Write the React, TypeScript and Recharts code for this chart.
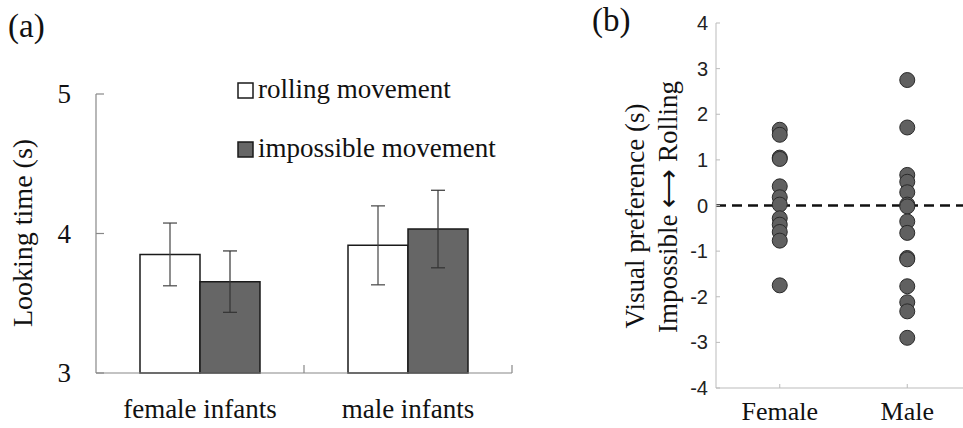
import React from 'react';
import {
  BarChart,
  Bar,
  XAxis,
  YAxis,
  ErrorBar,
  ScatterChart,
  Scatter,
  ReferenceLine,
} from 'recharts';

// ---------- Data: panel (a) ----------
const groups = ['female infants', 'male infants'];
const rollingMeans = [3.85, 3.915];
const rollingErrors = [0.225, 0.283];
const impossibleMeans = [3.655, 4.032];
const impossibleErrors = [0.22, 0.278];
const lookingTicks = [3, 4, 5];

// ---------- Data: panel (b) ----------
const prefCategories = ['Female', 'Male'];
const femalePrefs = [1.66, 1.55, 1.05, 1.02, 0.42, 0.18, 0.02, -0.28, -0.42, -0.58, -0.77, -1.75];
const malePrefs = [2.75, 1.71, 0.67, 0.52, 0.29, 0.02, -0.02, -0.35, -0.6, -1.15, -1.18, -1.77, -2.12, -2.32, -2.9];
const prefTicks = [-4, -3, -2, -1, 0, 1, 2, 3, 4];
const prefCategoryPositions = [1, 2];

const barData = groups.map((g, i) => ({
  group: g,
  rolling: rollingMeans[i],
  rollingErr: rollingErrors[i],
  impossible: impossibleMeans[i],
  impossibleErr: impossibleErrors[i],
}));
const femaleData = femalePrefs.map((v) => ({ x: prefCategoryPositions[0], y: v }));
const maleData = malePrefs.map((v) => ({ x: prefCategoryPositions[1], y: v }));

const SERIF = '"Liberation Serif", "Times New Roman", serif';
const SANS = '"Liberation Sans", Arial, sans-serif';

// layout constants panel (a)
const A_W = 560;
const A_H = 428;
const A_MARGIN = { top: 94, right: 48, bottom: 10, left: 26 };
const A_YW = 70;
const A_PLOT_W = A_W - A_MARGIN.left - A_MARGIN.right - A_YW;
const A_HALF_BAND = A_PLOT_W / groups.length / 2;

const XTickA = (props: any) => {
  const { x, y, payload } = props;
  return (
    <g>
      <line x1={x + A_HALF_BAND} x2={x + A_HALF_BAND} y1={y} y2={y - 8} stroke="#888" strokeWidth={1.2} />
      <text x={x} y={y + 45} textAnchor="middle" fontFamily={SERIF} fontSize={27} fill="#111">
        {payload.value}
      </text>
    </g>
  );
};

const YTickA = (props: any) => {
  const { x, y, payload } = props;
  return (
    <g>
      <line x1={x + 25} x2={x + 33} y1={y} y2={y} stroke="#888" strokeWidth={1.2} />
      <text x={x} y={y + 9} textAnchor="end" fontFamily={SERIF} fontSize={27} fill="#111">
        {payload.value}
      </text>
    </g>
  );
};

const XTickB = (props: any) => {
  const { x, y, payload } = props;
  const idx = prefCategoryPositions.indexOf(payload.value);
  return (
    <g>
      <line x1={x} x2={x} y1={y} y2={y - 4} stroke="#bbb" strokeWidth={1} />
      <text x={x} y={y + 32} textAnchor="middle" fontFamily={SERIF} fontSize={26} fill="#111">
        {idx >= 0 ? prefCategories[idx] : ''}
      </text>
    </g>
  );
};

const TopTickB = (props: any) => {
  const { x, y } = props;
  return <line x1={x} x2={x} y1={y} y2={y + 4} stroke="#bbb" strokeWidth={1} />;
};

const YTickB = (props: any) => {
  const { x, y, payload } = props;
  return (
    <g>
      <line x1={x + 8} x2={x + 12} y1={y} y2={y} stroke="#bbb" strokeWidth={1} />
      <text x={x} y={y + 7} textAnchor="end" fontFamily={SANS} fontSize={20} fill="#222">
        {payload.value}
      </text>
    </g>
  );
};

const Dot = (props: any) => {
  const { cx, cy } = props;
  return <circle cx={cx} cy={cy} r={7.5} fill="#606060" stroke="#2a2a2a" strokeWidth={1} />;
};

export default function App() {
  return (
    <div
      style={{
        position: 'absolute',
        left: 0,
        top: 0,
        width: 963,
        height: 428,
        overflow: 'hidden',
        background: '#fff',
      }}
    >
      <div style={{ position: 'absolute', left: 0, top: 0 }}>
        <BarChart width={A_W} height={A_H} data={barData} margin={A_MARGIN} barGap={0} barSize={60}>
          <XAxis
            dataKey="group"
            height={45}
            axisLine={{ stroke: '#888', strokeWidth: 1.2 }}
            tickLine={false}
            tickSize={0}
            tickMargin={0}
            interval={0}
            tick={<XTickA />}
          />
          <YAxis
            domain={[3, 5]}
            ticks={lookingTicks}
            width={A_YW}
            axisLine={{ stroke: '#888', strokeWidth: 1.2 }}
            tickLine={false}
            tickSize={0}
            tickMargin={25}
            tick={<YTickA />}
          />
          <Bar dataKey="rolling" fill="#ffffff" stroke="#1a1a1a" strokeWidth={1.5} isAnimationActive={false}>
            <ErrorBar dataKey="rollingErr" width={7} stroke="#444" strokeWidth={1.2} />
          </Bar>
          <Bar dataKey="impossible" fill="#666666" stroke="#1a1a1a" strokeWidth={1.5} isAnimationActive={false}>
            <ErrorBar dataKey="impossibleErr" width={7} stroke="#333" strokeWidth={1.2} />
          </Bar>
        </BarChart>
      </div>

      <div style={{ position: 'absolute', left: 590, top: 0 }}>
        <ScatterChart width={390} height={428} margin={{ top: 23, right: 9, bottom: 0, left: 66 }}>
          <XAxis
            type="number"
            dataKey="x"
            domain={[0.5, 2.5]}
            ticks={prefCategoryPositions}
            height={40}
            axisLine={{ stroke: '#bbb' }}
            tickLine={false}
            tickSize={0}
            tickMargin={0}
            tick={<XTickB />}
            allowDataOverflow
          />
          <XAxis
            xAxisId="top"
            orientation="top"
            type="number"
            domain={[0.5, 2.5]}
            ticks={prefCategoryPositions}
            height={0}
            axisLine={{ stroke: '#ccc' }}
            tickLine={false}
            tickSize={0}
            tickMargin={0}
            tick={<TopTickB />}
            allowDataOverflow
          />
          <YAxis
            type="number"
            dataKey="y"
            domain={[-4, 4]}
            ticks={prefTicks}
            width={60}
            axisLine={{ stroke: '#bbb' }}
            tickLine={false}
            tickSize={0}
            tickMargin={8}
            tick={<YTickB />}
          />
          <Scatter data={femaleData} shape={<Dot />} isAnimationActive={false} />
          <Scatter data={maleData} shape={<Dot />} isAnimationActive={false} />
          <ReferenceLine y={0} stroke="#111" strokeDasharray="10 6" strokeWidth={2.5} />
        </ScatterChart>
      </div>

      <svg
        width={963}
        height={428}
        style={{ position: 'absolute', left: 0, top: 0, pointerEvents: 'none' }}
      >
        <text x={8} y={37} fontFamily={SERIF} fontSize={33} fill="#111">(a)</text>
        <text x={592} y={31} fontFamily={SERIF} fontSize={33} fill="#111">(b)</text>
        <text
          transform="translate(32,233) rotate(-90)"
          textAnchor="middle"
          fontFamily={SERIF}
          fontSize={28}
          fill="#111"
        >
          Looking time (s)
        </text>
        <text
          transform="translate(644,216) rotate(-90)"
          textAnchor="middle"
          fontFamily={SERIF}
          fontSize={27}
          fill="#111"
        >
          Visual preference (s)
        </text>
        <text
          transform="translate(677,207) rotate(-90)"
          textAnchor="middle"
          fontFamily={SERIF}
          fontSize={27}
          fill="#111"
        >
          Impossible ⟷ Rolling
        </text>
        <rect x={238} y={83} width={15} height={15} fill="#fff" stroke="#1a1a1a" strokeWidth={1.5} />
        <text x={258} y={98} fontFamily={SERIF} fontSize={27} fill="#111">rolling movement</text>
        <rect x={238} y={142} width={15} height={15} fill="#666666" stroke="#1a1a1a" strokeWidth={1.5} />
        <text x={258} y={157} fontFamily={SERIF} fontSize={27} fill="#111">impossible movement</text>
      </svg>
    </div>
  );
}
